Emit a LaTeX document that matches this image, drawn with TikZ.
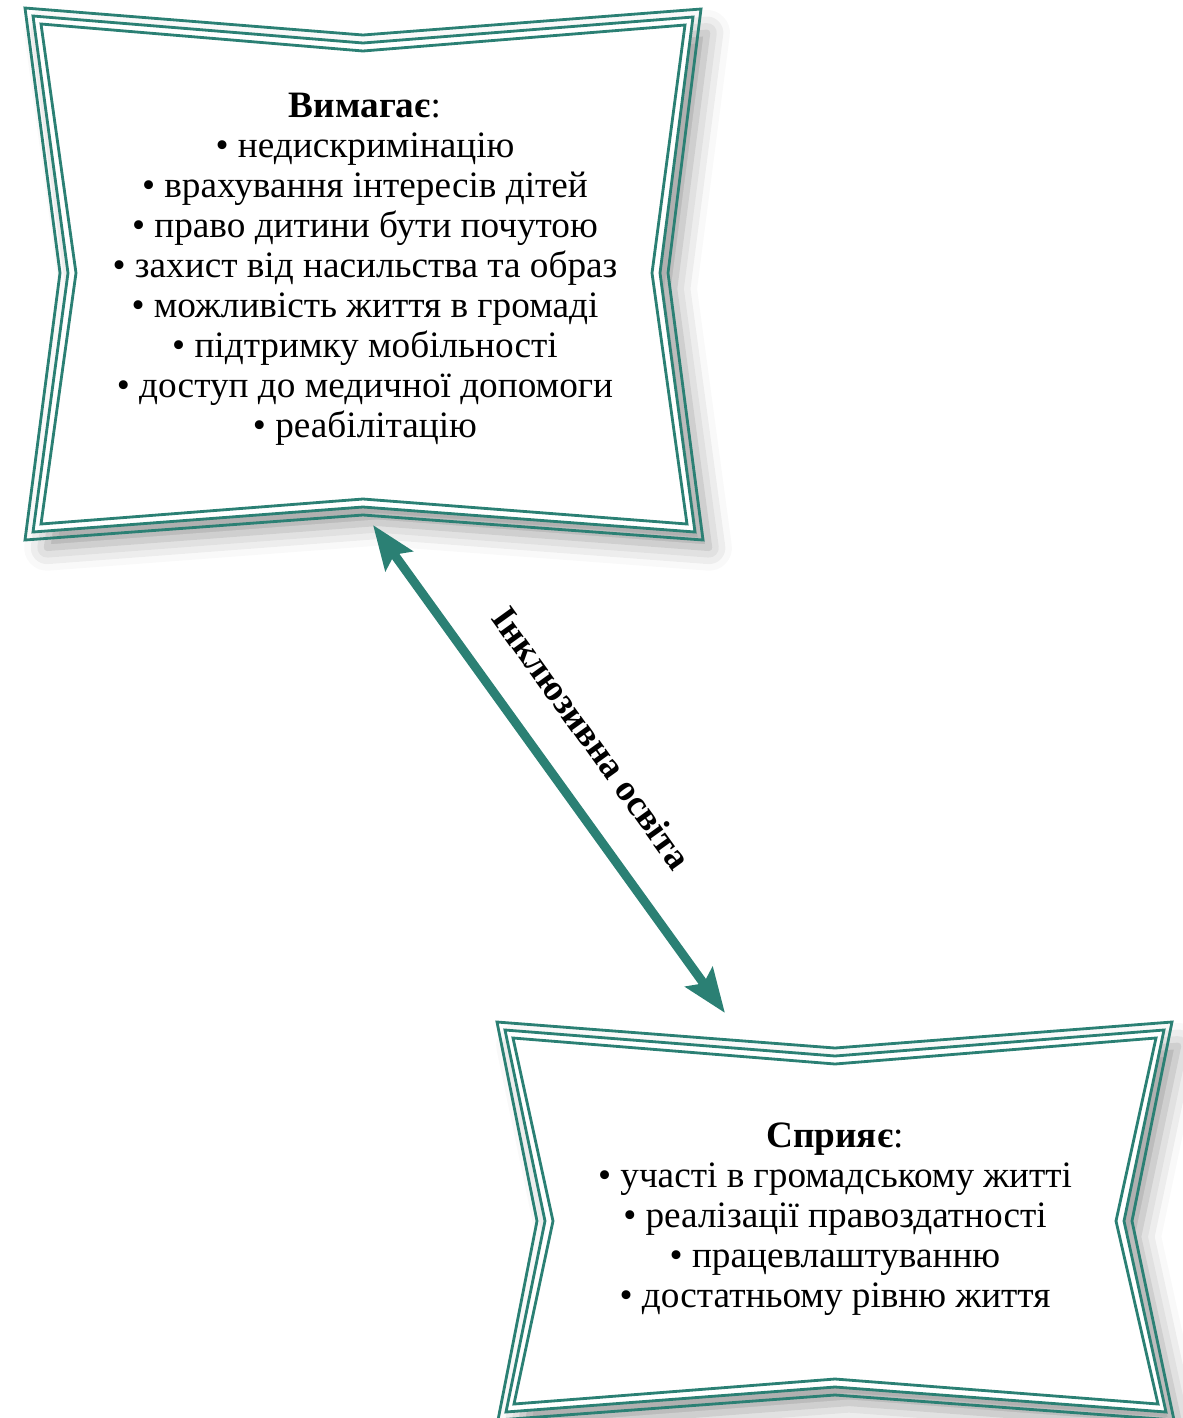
\documentclass[tikz,border=0pt]{standalone}
\usepackage{fontspec}
\setmainfont{Liberation Serif}
\usetikzlibrary{arrows.meta,shadows.blur}
\definecolor{framecol}{RGB}{43,128,116}

\begin{document}
\begin{tikzpicture}[
            x=0.02cm, y=-0.02cm,
            frame/.style={
                draw=framecol,
                line width=1.6pt,
                line join=miter
            },
            card/.style={
                fill=white,
                blur shadow={shadow xshift=8pt, shadow yshift=-9pt,
                    shadow blur radius=13pt, shadow opacity=38}
            },
            listtext/.style={
                align=center,
                font=\fontsize{21.2}{22.8}\selectfont
            },
            link/.style={
                draw=framecol,
                line width=0.18cm,
                {Stealth[length=0.88cm, width=0.66cm, inset=0.15cm]}-{Stealth[length=0.88cm, width=0.66cm, inset=0.15cm]}
            },
            linklabel/.style={
                midway,
                sloped,
                above=17pt,
                font=\bfseries\fontsize{21}{22}\selectfont
            }
        ]
            \useasboundingbox (0,0) rectangle (1183,1418);

            % upper card
            \fill[card] (33,16) -- (363,43) -- (693,17) -- (660,273) -- (695,532)
                -- (363,507) -- (33,532) -- (68,273) -- cycle;
            \foreach \d in {0,8,16}
                \draw[frame] (25+\d,8+\d) -- (363,35+\d) -- (701-\d,9+\d) -- (668-\d,273)
                    -- (703-\d,540-\d) -- (363,515-\d) -- (25+\d,540-\d) -- (60+\d,273) -- cycle;

            % lower card
            \fill[card] (505,1030) -- (835,1056) -- (1164,1030) -- (1124,1221) -- (1166,1412)
                -- (835,1387) -- (506,1412) -- (545,1221) -- cycle;
            \foreach \d in {0,8,16}
                \draw[frame] (497+\d,1022+\d) -- (835,1048+\d) -- (1172-\d,1022+\d) -- (1132-\d,1221)
                    -- (1174-\d,1420-\d) -- (835,1395-\d) -- (498+\d,1420-\d) -- (537+\d,1221) -- cycle;

            \node[listtext] (demands) at (365,269) {\textbf{Вимагає}:\\
                • недискримінацію\\
                • врахування інтересів дітей\\
                • право дитини бути почутою\\
                • захист від насильства та образ\\
                • можливість життя в громаді\\
                • підтримку мобільності\\
                • доступ до медичної допомоги\\
                • реабілітацію};

            \node[listtext] (promotes) at (835,1219) {\textbf{Сприяє}:\\
                • участі в громадському житті\\
                • реалізації правоздатності\\
                • працевлаштуванню\\
                • достатньому рівню життя};

            \coordinate (demandsTip) at (373,525);
            \coordinate (promotesTip) at (725,1013);

            \draw[link] (demandsTip) -- node[linklabel] {Інклюзивна освіта} (promotesTip);
        \end{tikzpicture}
\end{document}
